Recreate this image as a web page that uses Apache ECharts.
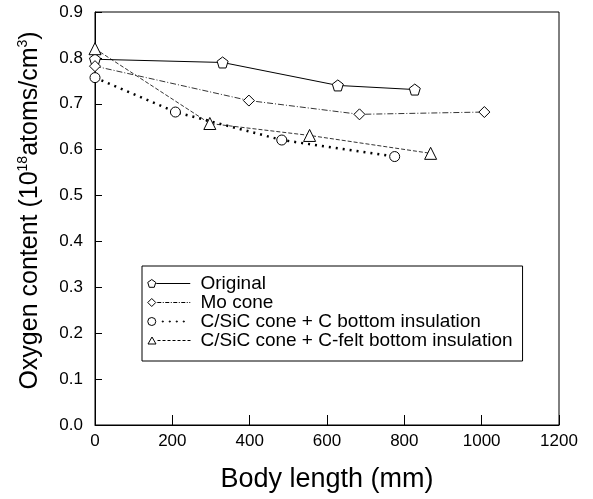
<!DOCTYPE html>
<html>
<head>
<meta charset="utf-8">
<script src="https://cdn.jsdelivr.net/npm/echarts@6/dist/echarts.min.js"></script>
<style>
  html, body { margin: 0; padding: 0; background: #fff; }
  #main { width: 593px; height: 499px; }
</style>
</head>
<body>
<div id="main"></div>
<script>
// 数据
const originalX = [0, 330, 628, 827];
const originalY = [0.797, 0.790, 0.740, 0.731];
const moConeX = [0, 398, 684, 1007];
const moConeY = [0.782, 0.707, 0.677, 0.682];
const csicCX = [0, 208, 483, 775];
const csicCY = [0.757, 0.682, 0.621, 0.585];
const csicFeltX = [0, 297, 555, 868];
const csicFeltY = [0.820, 0.657, 0.631, 0.592];
const seriesNames = [
  'Original',
  'Mo cone',
  'C/SiC cone + C bottom insulation',
  'C/SiC cone + C-felt bottom insulation'
];

const pentagon = 'path://M0,-10L9.5,-3.1L5.9,8.1L-5.9,8.1L-9.5,-3.1Z';
const diamond = 'path://M0,-10L10,0L0,10L-10,0Z';

// 图例图标: 左边符号 + 右边线段 (43x9)
function dashes(from, to, seg, gap) {
  let d = '';
  for (let x = from; x < to; x += seg + gap) {
    d += 'M' + x + ',4.5L' + Math.min(x + seg, to) + ',4.5';
  }
  return d;
}
function dots(from, to, step) {
  let d = '';
  for (let x = from; x <= to; x += step) {
    d += 'M' + x + ',4h1v1h-1z';
  }
  return d;
}
function dashDot(from, to) {
  let d = '';
  for (let x = from; x < to; x += 8) {
    d += 'M' + x + ',4.5L' + Math.min(x + 4, to) + ',4.5';
    if (x + 5.5 < to) d += 'M' + (x + 5.5) + ',4.5L' + (x + 6.5) + ',4.5';
  }
  return d;
}
const legendIcons = [
  'path://M4.5,0.5L8.5,3.4L7,8.3L2,8.3L0.5,3.4Z' + 'M9,4.5L43,4.5' + 'M43,0L43,0M43,9L43,9',
  'path://M4.5,0.5L8.5,4.5L4.5,8.5L0.5,4.5Z' + dashDot(10, 43) + 'M43,0L43,0M43,9L43,9',
  'path://M0.5,4.5A4,4,0,1,1,8.5,4.5A4,4,0,1,1,0.5,4.5Z' + dots(15, 42, 7) + 'M43,0L43,0M43,9L43,9',
  'path://M4.5,1L8.5,8L0.5,8Z' + dashes(10, 43, 3, 2) + 'M43,0L43,0M0,9L0,9'
];

function pairs(xs, ys) {
  return xs.map((x, i) => [x, ys[i]]);
}

function makeSeries(name, xs, ys, symbol, size, lineStyle) {
  return {
    name: name,
    type: 'line',
    data: pairs(xs, ys),
    symbol: symbol,
    symbolSize: size,
    clip: false,
    lineStyle: Object.assign({ color: '#000', width: 1 }, lineStyle),
    itemStyle: { color: '#fff', borderColor: '#000', borderWidth: 1 },
    emphasis: { disabled: true },
    animation: false
  };
}

const chart = echarts.init(document.getElementById('main'));
const font = 'Liberation Sans, Arial, sans-serif';

const option = {
  backgroundColor: '#fff',
  textStyle: { fontFamily: font, color: '#000' },
  grid: {
    left: 95, right: 34, top: 12, bottom: 74,
    show: true, borderColor: '#000', borderWidth: 1
  },
  legend: {
    orient: 'vertical',
    left: 142, top: 266,
    padding: [8, 10, 11, 5],
    itemGap: 0,
    itemWidth: 43,
    itemHeight: 9,
    borderColor: '#000',
    borderWidth: 1,
    itemStyle: { color: '#fff', borderColor: '#000', borderWidth: 1 },
    textStyle: { fontSize: 19, color: '#000', fontFamily: font, padding: [0, 0, 0, 5] },
    data: seriesNames.map((n, i) => ({ name: n, icon: legendIcons[i] }))
  },
  xAxis: {
    type: 'value',
    min: 0, max: 1200, interval: 200,
    name: 'Body length (mm)',
    nameLocation: 'middle',
    nameGap: 41,
    nameTextStyle: { fontSize: 27, color: '#000', fontFamily: font },
    axisLine: { onZero: false, lineStyle: { color: '#000' } },
    axisTick: { inside: true, length: 10, lineStyle: { color: '#000' } },
    axisLabel: { fontSize: 17, color: '#000', margin: 8, formatter: v => String(v) },
    splitLine: { show: false }
  },
  yAxis: {
    type: 'value',
    min: 0, max: 0.9, interval: 0.1,
    name: '{n|Oxygen content (10}{s|18}{n|atoms/cm}{s|3}{n|)}',
    nameLocation: 'middle',
    nameGap: 51,
    nameRotate: 90,
    nameTextStyle: {
      padding: [0, 0, 0, 16],
      rich: {
        n: { fontSize: 25, color: '#000', fontFamily: font, lineHeight: 28 },
        s: { fontSize: 14, color: '#000', fontFamily: font, verticalAlign: 'top', lineHeight: 28 }
      }
    },
    axisLine: { show: true, lineStyle: { color: '#000' } },
    axisTick: { show: true, inside: true, length: 7, lineStyle: { color: '#000' } },
    axisLabel: {
      fontSize: 17, color: '#000', margin: 12,
      formatter: v => v.toFixed(1)
    },
    splitLine: { show: false }
  },
  series: [
    makeSeries(seriesNames[0], originalX, originalY, pentagon, 11, { type: 'solid' }),
    makeSeries(seriesNames[1], moConeX, moConeY, diamond, 11, { type: [6, 2, 1, 2], width: 0.8 }),
    makeSeries(seriesNames[2], csicCX, csicCY, 'circle', 10, { type: [2, 5], width: 2.5 }),
    makeSeries(seriesNames[3], csicFeltX, csicFeltY, 'triangle', 12, { type: [4, 2], width: 0.8 })
  ]
};

chart.setOption(option);
</script>
</body>
</html>
